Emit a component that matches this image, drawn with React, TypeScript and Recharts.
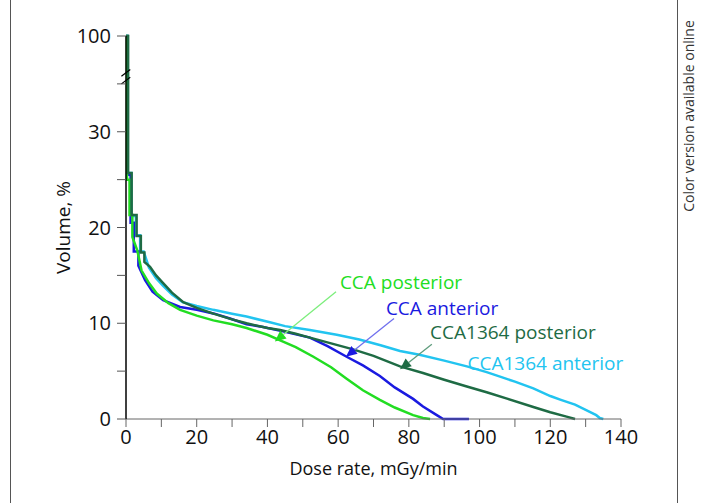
import React from 'react';
import {
  LineChart, Line, XAxis, YAxis, ReferenceLine, ReferenceDot
} from 'recharts';

// dose rate (mGy/min) vs volume (%) for each structure
const ccaPosteriorDose = [0, 0.3, 0.3, 1.0, 1.0, 1.8, 1.8, 2.5, 3.2, 4.4, 6.5, 8.7, 12, 15.3, 20, 24.7, 30, 34.1, 40, 43.6, 48, 53, 58, 62.4, 67, 71.8, 76, 81.2, 84, 86];
const ccaPosteriorVol = [100, 100, 25, 25, 21.3, 21.3, 19, 18.3, 17.6, 15.5, 14.2, 13.1, 12.1, 11.4, 10.8, 10.3, 9.9, 9.5, 8.8, 8.2, 7.5, 6.5, 5.4, 4.2, 3.0, 2.0, 1.2, 0.4, 0.1, 0];

const ccaAnteriorDose = [0, 0.4, 0.4, 1.3, 1.3, 2.2, 2.2, 3.5, 3.5, 5.4, 7.5, 10.5, 15.3, 20, 25, 29.4, 34.1, 38.8, 45, 52, 57, 62.4, 67, 71.8, 76, 81.2, 84, 87.9, 89.7, 97];
const ccaAnteriorVol = [100, 100, 25.5, 25.5, 20.5, 20.5, 17.5, 17.5, 16, 14.5, 13.3, 12.4, 11.7, 11.4, 11.0, 10.5, 9.9, 9.6, 9.1, 8.5, 7.6, 6.5, 5.6, 4.5, 3.3, 2.1, 1.3, 0.4, 0, 0];

const cca1364PosteriorDose = [0, 0.6, 0.6, 1.6, 1.6, 3, 3, 4.2, 4.2, 5.2, 5.2, 6.8, 8.5, 10.5, 13, 16.2, 20, 24.7, 30, 34.1, 40, 43.6, 48, 52, 58, 64, 70, 77.5, 84, 90, 96.4, 102, 108, 115.2, 120, 124.6, 127];
const cca1364PosteriorVol = [100, 100, 25.7, 25.7, 21.3, 21.3, 19.1, 19.1, 17.4, 17.4, 16.4, 15.9, 15, 14.2, 13.2, 12.2, 11.6, 11.0, 10.4, 10.0, 9.5, 9.3, 8.9, 8.5, 7.9, 7.3, 6.6, 5.5, 4.8, 4.1, 3.4, 2.8, 2.1, 1.25, 0.7, 0.25, 0];

const cca1364AnteriorDose = [0, 0.5, 0.5, 1.5, 1.5, 2.8, 2.8, 4, 4, 5, 6.5, 8.5, 10.5, 13, 16, 20, 24.7, 30, 34.1, 40.7, 45, 52, 59.6, 66, 72, 77.5, 83, 90, 96.4, 102, 106, 110, 115.2, 120, 123, 127, 130.3, 133, 134, 135];
const cca1364AnteriorVol = [100, 100, 25.7, 25.7, 21.2, 21.2, 19.2, 19.2, 17.5, 17.5, 15.8, 14.7, 13.9, 13, 12.2, 11.8, 11.4, 11.0, 10.7, 10.1, 9.7, 9.3, 8.8, 8.3, 7.7, 7.1, 6.7, 6.1, 5.5, 4.9, 4.4, 3.9, 3.2, 2.4, 2.0, 1.5, 0.9, 0.4, 0.1, 0];

const xTicks = [0, 10, 20, 30, 40, 50, 60, 70, 80, 90, 100, 110, 120, 130, 140];
const yTicks = [0, 5, 10, 15, 20, 25, 30, 35, 40];

// axis is broken above 35: 35..100 squeezed into 35..40
const squash = (v: number) => (v > 35 ? 35 + (v - 35) / 13 : v);
const toRows = (dose: number[], vol: number[]) =>
  dose.map((d, i) => ({ dose: d, vol: squash(vol[i]) }));

const series = [
  { name: 'CCA1364 anterior', color: '#22c4f0', data: toRows(cca1364AnteriorDose, cca1364AnteriorVol) },
  { name: 'CCA anterior', color: '#1a1ae0', data: toRows(ccaAnteriorDose, ccaAnteriorVol) },
  { name: 'CCA posterior', color: '#22dd22', data: toRows(ccaPosteriorDose, ccaPosteriorVol) },
  { name: 'CCA1364 posterior', color: '#1e6b44', data: toRows(cca1364PosteriorDose, cca1364PosteriorVol) },
];

const notes = [
  { text: 'CCA posterior', color: '#22dd22', line: '#7cee7c', at: [60.5, 14.3], from: [59.4, 13.3], to: [42.1, 8.1] },
  { text: 'CCA anterior', color: '#1a1ae0', line: '#7070ee', at: [73.5, 11.6], from: [75.8, 10.5], to: [62.2, 6.5] },
  { text: 'CCA1364 posterior', color: '#1e6b44', line: '#5f9c7d', at: [86, 9.1], from: [86.5, 7.8], to: [77.5, 5.2] },
  { text: 'CCA1364 anterior', color: '#22c4f0', line: null, at: [96.6, 5.8], from: null, to: null },
];

const FONT = '"Open Sans", "Noto Sans", sans-serif';

const arrow = (lineColor: string, headColor: string) => (props: any) => {
  const { x1, y1, x2, y2 } = props;
  const a = Math.atan2(y2 - y1, x2 - x1);
  const len = 11;
  const w = 5;
  const bx = x2 - len * Math.cos(a);
  const by = y2 - len * Math.sin(a);
  const pts = `${x2},${y2} ${bx + w * Math.sin(a)},${by - w * Math.cos(a)} ${bx - w * Math.sin(a)},${by + w * Math.cos(a)}`;
  return (
    <g>
      <line x1={x1} y1={y1} x2={bx} y2={by} stroke={lineColor} strokeWidth={1.3} />
      <polygon points={pts} fill={headColor} />
    </g>
  );
};

const noteText = (text: string, color: string) => (props: any) => (
  <text x={props.cx} y={props.cy} dominantBaseline="central" fill={color}
    fontSize={19} fontFamily={FONT}>{text}</text>
);

export default function App() {
  return (
    <div style={{ position: 'absolute', left: 0, top: 0, width: 703, height: 503, background: '#fff', overflow: 'hidden' }}>
      <div style={{ position: 'absolute', left: 10, top: -4, width: 666, height: 520, border: '1.5px solid #555' }} />
      <div style={{
        position: 'absolute', left: 688, top: 116, transform: 'translate(-50%, -50%) rotate(-90deg)',
        whiteSpace: 'nowrap', fontFamily: FONT, fontSize: 14, color: '#333'
      }}>
        Color version available online
      </div>
      <div style={{ position: 'absolute', left: 0, top: 0 }}>
        <LineChart width={703} height={503} margin={{ top: 36, right: 82, left: 0, bottom: 0 }}>
          <XAxis
            dataKey="dose"
            type="number"
            domain={[0, 140]}
            ticks={xTicks}
            allowDuplicatedCategory={false}
            tickFormatter={(v) => (v % 20 === 0 ? `${v}` : '')}
            height={84}
            tickSize={8}
            tickMargin={3}
            stroke="#666"
            tick={{ fill: '#111', fontSize: 20, fontFamily: FONT }}
            label={{ value: 'Dose rate, mGy/min', position: 'insideBottom', offset: 28, style: { fill: '#111', fontSize: 18, fontFamily: FONT } }}
          />
          <YAxis
            type="number"
            domain={[0, 40]}
            ticks={yTicks}
            interval={0}
            tickFormatter={(v) => (v === 40 ? '100' : v % 10 === 0 ? `${v}` : '')}
            width={126}
            tickSize={9}
            tickMargin={6}
            axisLine={{ stroke: '#000', strokeWidth: 1.5 }}
            tickLine={{ stroke: '#555' }}
            tick={{ fill: '#111', fontSize: 20, fontFamily: FONT }}
            label={{ value: 'Volume, %', angle: -90, position: 'center', style: { fill: '#111', fontSize: 19, fontFamily: FONT } }}
          />
          {series.map((s) => (
            <Line
              key={s.name}
              data={s.data}
              dataKey="vol"
              type="linear"
              stroke={s.color}
              strokeWidth={2.5}
              dot={false}
              isAnimationActive={false}
            />
          ))}
          {/* axis break marks */}
          <ReferenceLine segment={[{ x: -1.3, y: 35.0 }, { x: 1.2, y: 35.7 }]} stroke="#000" strokeWidth={1.2} ifOverflow="visible" />
          <ReferenceLine segment={[{ x: -1.3, y: 35.8 }, { x: 1.2, y: 36.5 }]} stroke="#000" strokeWidth={1.2} ifOverflow="visible" />
          {notes.filter((n) => n.from).map((n) => (
            <ReferenceLine
              key={n.text + '-arrow'}
              segment={[{ x: n.from![0], y: n.from![1] }, { x: n.to![0], y: n.to![1] }]}
              shape={arrow(n.line!, n.color)}
              ifOverflow="visible"
            />
          ))}
          {notes.map((n) => (
            <ReferenceDot
              key={n.text}
              x={n.at[0]}
              y={n.at[1]}
              r={1}
              shape={noteText(n.text, n.color)}
              ifOverflow="visible"
            />
          ))}
        </LineChart>
      </div>
    </div>
  );
}
